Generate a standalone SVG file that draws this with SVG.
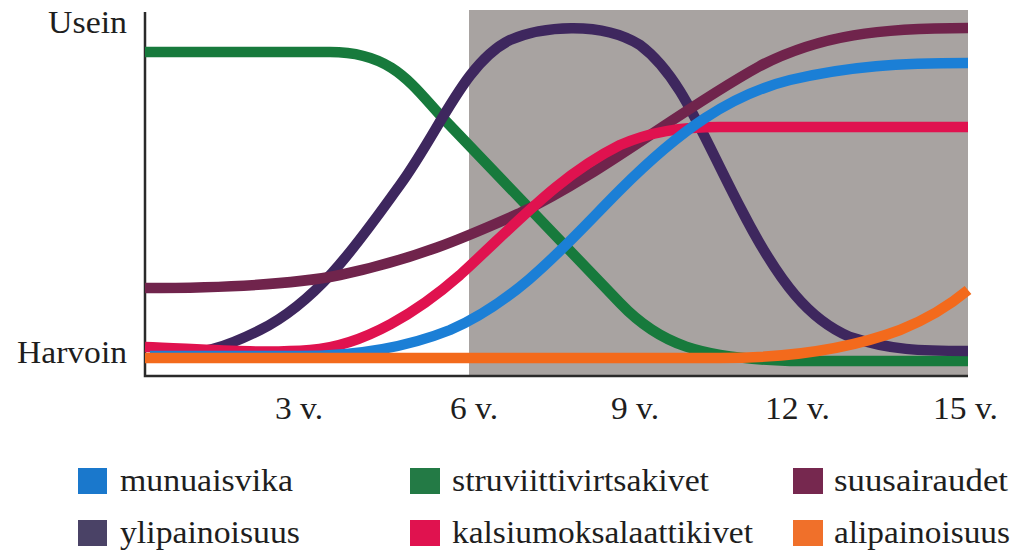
<svg xmlns="http://www.w3.org/2000/svg" width="1019" height="553" viewBox="0 0 1019 553">
<style>
text{font-family:"Liberation Serif","Times New Roman",serif;fill:#1e1e1e;font-size:32px}
.c{fill:none;stroke-width:10.5;stroke-linecap:butt;stroke-linejoin:round}
.ax{stroke:#2a2a2a;stroke-width:2.5;fill:none}
</style>
<rect width="1019" height="553" fill="#ffffff"/>
<g id="shade"><rect x="469" y="10" width="499" height="366" fill="#a8a3a1"/></g>
<g id="axes">
<path class="ax" d="M145,12 V376 H968"/>
<text x="48" y="33" textLength="79" lengthAdjust="spacingAndGlyphs">Usein</text>
<text x="17" y="363" textLength="110" lengthAdjust="spacingAndGlyphs">Harvoin</text>
<text x="275" y="419" textLength="48" lengthAdjust="spacingAndGlyphs">3 v.</text>
<text x="450" y="419" textLength="48" lengthAdjust="spacingAndGlyphs">6 v.</text>
<text x="611" y="419" textLength="48" lengthAdjust="spacingAndGlyphs">9 v.</text>
<text x="765" y="419" textLength="65" lengthAdjust="spacingAndGlyphs">12 v.</text>
<text x="933" y="419" textLength="65" lengthAdjust="spacingAndGlyphs">15 v.</text>
</g>
<g id="connectors">
<path id="struviitti" class="c" stroke="#177a3c" d="M145,52 H330 C390,52 410,82 440,115 L620,303 C660,345 700,358 790,361 H968"/>
<path id="ylipaino" class="c" stroke="#3e275e" d="M150,357 C200,357 230,345 260,330 C320,300 360,240 400,185 C440,130 465,62 510,40 C540,27 600,20 640,45 C680,75 700,130 740,207 C780,285 810,320 850,337 C890,350 920,351 968,351"/>
<path id="suusairaudet" class="c" stroke="#70244c" d="M145,288 C220,288 290,285 340,275 C420,258 470,235 520,213 C600,175 680,110 760,66 C820,35 880,28 968,28"/>
<path id="kalsium" class="c" stroke="#e0124f" d="M145,347 C200,349 260,354 310,350 C365,346 420,310 460,275 C520,220 560,175 620,145 C650,132 680,127 720,127 H968"/>
<path id="munuais" class="c" stroke="#1b7fd6" d="M150,356 H300 C360,356 410,346 450,330 C520,300 570,240 620,190 C680,130 730,95 790,80 C850,66 900,63 968,63"/>
<path id="alipaino" class="c" stroke="#f36a1c" d="M145,358 H720 C800,358 860,345 900,330 C930,318 950,305 968,290"/>
</g>
<g id="legend-munuaisvika"><rect x="78" y="468" width="29" height="26" fill="#1a78cc"/><text x="120" y="491" textLength="173" lengthAdjust="spacingAndGlyphs">munuaisvika</text></g>
<g id="legend-struviitti"><rect x="410" y="468" width="30" height="26" fill="#237a45"/><text x="452" y="491" textLength="257" lengthAdjust="spacingAndGlyphs">struviittivirtsakivet</text></g>
<g id="legend-suusairaudet"><rect x="793" y="468" width="30" height="26" fill="#76284f"/><text x="834" y="491" textLength="174" lengthAdjust="spacingAndGlyphs">suusairaudet</text></g>
<g id="legend-ylipaino"><rect x="78" y="520" width="29" height="26" fill="#4a4266"/><text x="120" y="543" textLength="180" lengthAdjust="spacingAndGlyphs">ylipainoisuus</text></g>
<g id="legend-kalsium"><rect x="410" y="520" width="30" height="26" fill="#e0124f"/><text x="452" y="543" textLength="301" lengthAdjust="spacingAndGlyphs">kalsiumoksalaattikivet</text></g>
<g id="legend-alipaino"><rect x="793" y="520" width="30" height="26" fill="#f0702a"/><text x="834" y="543" textLength="176" lengthAdjust="spacingAndGlyphs">alipainoisuus</text></g>
</svg>
